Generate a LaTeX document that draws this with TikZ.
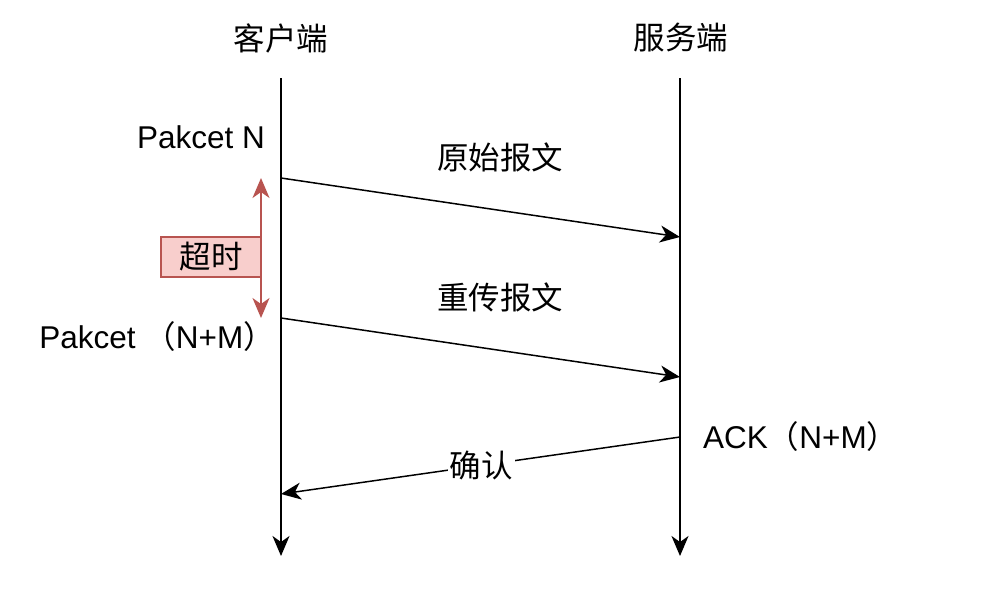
\documentclass[tikz,border=0pt]{standalone}
\usepackage{fontspec}
\setmainfont{Liberation Sans}
\newfontfamily\cjk{Noto Sans CJK SC}
\usetikzlibrary{arrows.meta}
\definecolor{redline}{HTML}{B85450}
\definecolor{redfill}{HTML}{F8CECC}
\tikzset{
  lbl/.style={inner sep=0pt, font=\fontsize{31.5}{36}\selectfont},
  cjklbl/.style={inner sep=0pt, font=\fontsize{31.5}{36}\selectfont\cjk},
  lifeline/.style={line width=2pt, -{Stealth[length=20pt,width=17pt,inset=6pt]}},
  msg/.style={line width=1.5pt, -{Stealth[length=20pt,width=17pt,inset=6pt]}},
  timeout/.style={line width=2pt, redline, {Stealth[length=20pt,width=17pt,inset=6pt]}-{Stealth[length=20pt,width=17pt,inset=6pt]}},
  tobox/.style={draw=redline, fill=redfill, line width=1.3pt, minimum width=100pt, minimum height=40pt, inner sep=0pt, font=\fontsize{31.5}{36}\selectfont\cjk},
}
\begin{document}
\begin{tikzpicture}[x=1pt,y=-1pt]
\useasboundingbox (0,0) rectangle (990,592);
% headers
\node[cjklbl] (client) at (281,38) {客户端};
\node[cjklbl] (server) at (681,38) {服务端};
% lifeline coordinates
\coordinate (cTop) at (281,78);
\coordinate (cBot) at (281,556);
\coordinate (sTop) at (680,78);
\coordinate (sBot) at (680,556);
\draw[lifeline] (cTop) -- (cBot);
\draw[lifeline] (sTop) -- (sBot);
% message points
\coordinate (m1s) at (281,178);
\coordinate (m1e) at (680,237);
\coordinate (m2s) at (281,318);
\coordinate (m2e) at (680,377);
\coordinate (m3s) at (680,437);
\coordinate (m3e) at (281,494);
\draw[msg] (m1s) -- (m1e);
\draw[msg] (m2s) -- (m2e);
\draw[msg] (m3s) -- (m3e);
% labels
\node[cjklbl] (l1) at (500,157) {原始报文};
\node[cjklbl] (l2) at (500,297) {重传报文};
\node[cjklbl,fill=white,inner xsep=2pt] (l3) at (481,465) {确认};
\node[lbl,anchor=east] (pn) at (265,137) {Pakcet N};
\node[lbl,anchor=east] (pnm) at (275,337) {Pakcet {\cjk （}N+M{\cjk ）}};
\node[lbl,anchor=west] (ack) at (703,437) {ACK{\cjk （}N+M{\cjk ）}};
% timeout
\coordinate (tTop) at (261,178);
\coordinate (tBot) at (261,318);
\draw[timeout] (tTop) -- (tBot);
\node[tobox] (to) at (211,257) {超时};
\end{tikzpicture}
\end{document}
